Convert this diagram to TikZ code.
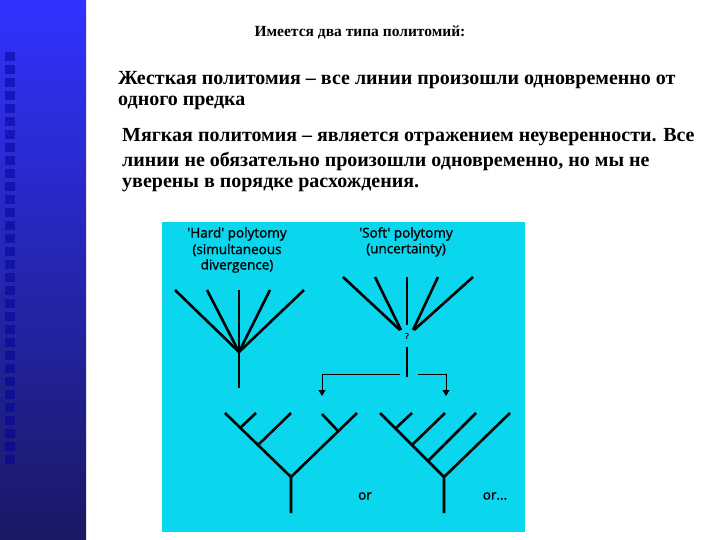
\documentclass[tikz,border=0pt]{standalone}
\usepackage{fontspec}
\setmainfont{Liberation Serif}
\newfontfamily\figsans[FakeBold=1.2]{Open Sans}
\usetikzlibrary{arrows.meta}
\definecolor{panel}{RGB}{10,214,238}
\definecolor{bartop}{RGB}{50,50,255}
\definecolor{barbot}{RGB}{25,25,100}
\tikzset{
  br/.style={line width=2.6pt},
  arr/.style={line width=0.9pt,-{Triangle[width=7pt,length=6pt]}},
  rus/.style={anchor=west,inner sep=0pt,font=\bfseries\fontsize{20}{22}\selectfont},
  fl/.style={inner sep=0pt,font=\figsans\fontsize{13.5}{15}\selectfont},
}
\begin{document}
\begin{tikzpicture}[x=1pt,y=-1pt]
\useasboundingbox (0,0) rectangle (720,540);
\fill[white] (0,0) rectangle (720,540);
\shade[top color=bartop,bottom color=barbot] (0,0) rectangle (86,540);
\foreach \i in {0,...,31} \fill[blue!60!black,opacity=0.5] (5,{52+\i*13}) rectangle (15,{61+\i*13});
% texts
\node[inner sep=0pt,font=\bfseries\fontsize{15.5}{18}\selectfont] (t0) at (360,33) {Имеется два типа политомий:};
\node[rus] (p1a) at (118,80) {Жесткая политомия – все линии произошли одновременно от};
\node[rus] (p1b) at (118,103) {одного предка};
\node[rus] (p2a) at (122,137) {Мягкая политомия – является отражением неуверенности. Все};
\node[rus] (p2b) at (122,161) {линии не обязательно произошли одновременно, но мы не};
\node[rus] (p2c) at (122,185) {уверены в порядке расхождения.};
% panel
\fill[panel] (162,222) rectangle (525,532);
\node[fl] (h1) at (237,234) {'Hard' polytomy};
\node[fl] (h2) at (237,250) {(simultaneous};
\node[fl] (h3) at (237,266) {divergence)};
\node[fl] (s1) at (406,234) {'Soft' polytomy};
\node[fl] (s2) at (406,250) {(uncertainty)};
% hard tree
\coordinate (hr) at (239,352);
\draw[br] (hr) -- (239,388);
\foreach \x in {175,207,239,270,304} \draw[br] (hr) -- (\x,290);
% soft tree
\draw[br] (400,330) -- (343,277);
\draw[br] (401,330) -- (375,277);
\draw[br] (407,325) -- (407,277);
\draw[br] (413,330) -- (438,277);
\draw[br] (414,330) -- (473,277);
\node[fl,font=\figsans\fontsize{8}{9}\selectfont] (q) at (407,336) {?};
\draw[br] (407,347) -- (407,377);
\coordinate (al) at (322,396);
\coordinate (ar) at (446,396);
\draw[arr] (400,374) -| (al);
\draw[arr] (418,374) -| (ar);
% lower left tree
\draw[br] (291,513) -- (291,477) -- (225,413);
\draw[br] (291,477) -- (357,413);
\draw[br] (240,428) -- (256,413);
\draw[br] (258,445) -- (291,413);
\draw[br] (338,431) -- (322,414);
% lower right tree
\draw[br] (444,513) -- (444,477) -- (380,413);
\draw[br] (444,477) -- (510,413);
\draw[br] (396,428) -- (412,413);
\draw[br] (412,445) -- (445,413);
\draw[br] (428,461) -- (476,413);
\node[fl] (or1) at (365,496) {or};
\node[fl] (or2) at (495,496) {or...};
\end{tikzpicture}
\end{document}
